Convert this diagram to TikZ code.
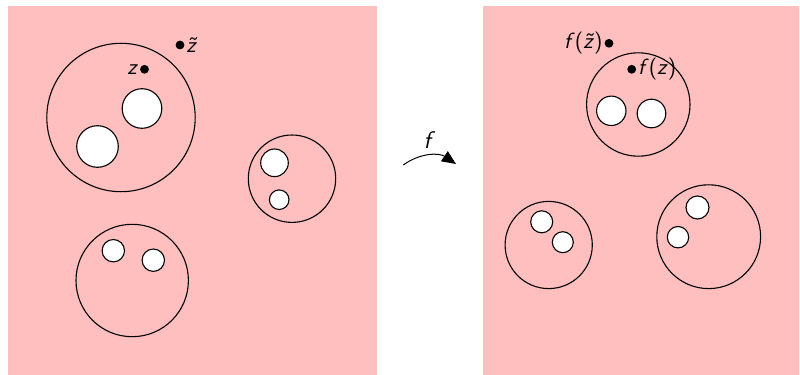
\documentclass[tikz,border=0pt]{standalone}
\usetikzlibrary{arrows.meta}
\definecolor{bgpink}{RGB}{255,191,191}
\begin{document}
\begin{tikzpicture}[x=0.5pt,y=-0.5pt,
  region/.style={fill=bgpink,draw=none},
  disc/.style={circle,draw,line width=0.55pt,inner sep=0pt,minimum size={#1*0.5pt}},
  hole/.style={circle,draw,fill=white,line width=0.55pt,inner sep=0pt,minimum size={#1*0.5pt}},
  pt/.style={circle,fill=black,inner sep=0pt,minimum size=4.4pt},
  lbl/.style={inner sep=0.6pt,font=\sffamily\fontsize{11}{13}\selectfont}]
\useasboundingbox (0,0) rectangle (800,375);
% regions
\path[region] (8,6) rectangle (377,375);
\path[region] (483,6) rectangle (799,375);
% left domain
\node[disc=148.4] (A) at (121,117.5) {};
\node[hole=39.6] (A1) at (142,108.5) {};
\node[hole=41.6] (A2) at (97.5,146.5) {};
\node[disc=87.4] (B) at (292,178.7) {};
\node[hole=27.6] (B1) at (274.5,162.8) {};
\node[hole=19.6] (B2) at (279.2,199.7) {};
\node[disc=112.4] (C) at (132.2,280.5) {};
\node[hole=22.4] (C1) at (113.3,250.7) {};
\node[hole=22.4] (C2) at (153.3,260.2) {};
\node[pt] (z) at (144.5,69.3) {};
\node[lbl,anchor=east] (zl) at (z.west) {\textit{z}};
\node[pt] (zt) at (180,45) {};
\node[lbl,anchor=west] (ztl) at (zt.east) {\textit{\~{z}}};
% right domain
\node[disc=103.4] (D) at (638.3,104.5) {};
\node[hole=29.4] (D1) at (611.3,110.8) {};
\node[hole=28.6] (D2) at (651.5,113.5) {};
\node[disc=87.2] (E) at (548.7,245) {};
\node[hole=22] (E1) at (541.7,221.8) {};
\node[hole=21] (E2) at (562.8,242.2) {};
\node[disc=103.8] (F) at (708.7,236.7) {};
\node[hole=23] (F1) at (697.5,207.5) {};
\node[hole=21.4] (F2) at (678,237.2) {};
\node[pt] (fz) at (631.7,69.3) {};
\node[lbl,anchor=west] (fzl) at (fz.east) {\textit{f}(\textit{z})};
\node[pt] (fzt) at (609,43.3) {};
\node[lbl,anchor=east] (fztl) at (fzt.west) {\textit{f}(\textit{\~{z}})};
% map arrow
\coordinate (m1) at (403.3,165);
\coordinate (m2) at (456,164);
\draw[line width=0.5pt,-{Triangle[length=7pt,width=6pt]}] (m1) to[bend left=35] (m2);
\node[lbl,font=\sffamily\large] (f) at (429.5,140.5) {\textit{f}};
\end{tikzpicture}
\end{document}
